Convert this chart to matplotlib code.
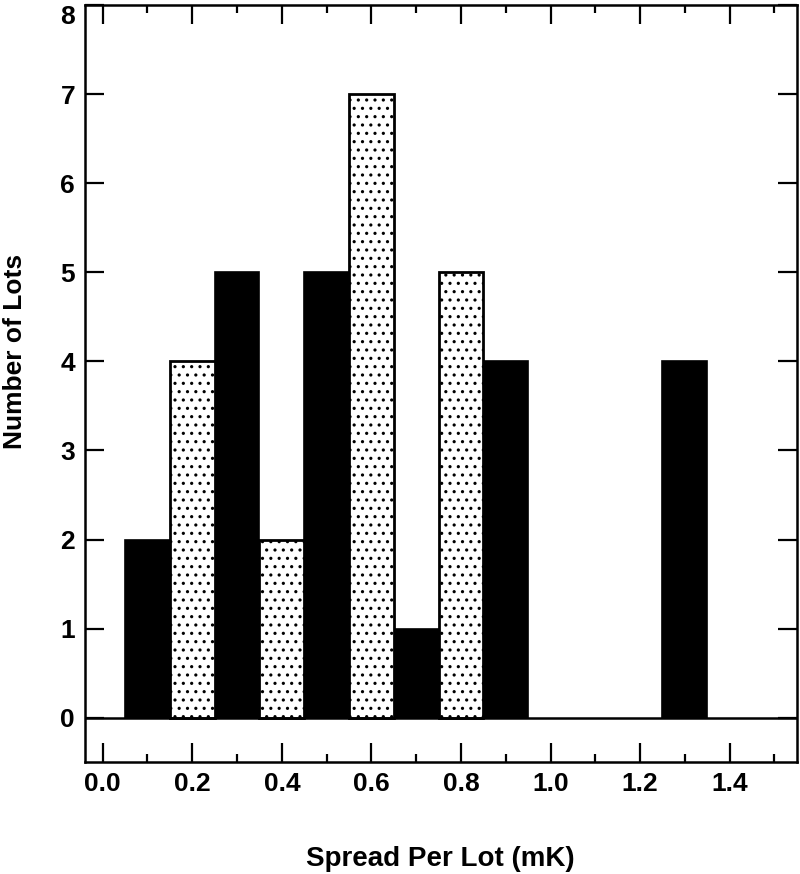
import matplotlib
matplotlib.use("Agg")
import matplotlib.pyplot as plt
from matplotlib.ticker import MultipleLocator

plt.rcParams['font.family'] = ['Liberation Sans', 'DejaVu Sans']
plt.rcParams['hatch.linewidth'] = 1.1

black_x = [0.1, 0.3, 0.5, 0.7, 0.9, 1.3]
black_counts = [2, 5, 5, 1, 4, 4]
dotted_x = [0.2, 0.4, 0.6, 0.8]
dotted_counts = [4, 2, 7, 5]
bar_width = 0.1
y_ticks = [0, 1, 2, 3, 4, 5, 6, 7, 8]
x_ticks = [0.0, 0.2, 0.4, 0.6, 0.8, 1.0, 1.2, 1.4]
x_ticklabels = ['0.0', '0.2', '0.4', '0.6', '0.8', '1.0', '1.2', '1.4']

fig = plt.figure(figsize=(8, 8.74), dpi=100)
ax = fig.add_axes([0.106, 0.128, 0.89, 0.866])

ax.bar(black_x, black_counts, width=bar_width, color='black', edgecolor='black', linewidth=1.2, zorder=2)
ax.bar(dotted_x, dotted_counts, width=bar_width, color='white', edgecolor='black', linewidth=2.0,
       hatch='..', zorder=2)
ax.axhline(0, color='black', lw=1.8, zorder=3)

ax.set_xlim(-0.04, 1.55)
ax.set_ylim(-0.5, 8)
ax.xaxis.set_minor_locator(MultipleLocator(0.1))
ax.set_yticks(y_ticks)
ax.set_xticks(x_ticks)
ax.set_xticklabels(x_ticklabels)

ax.tick_params(axis='both', which='major', direction='in', length=14, width=1.6,
               top=True, right=True, labelsize=19, pad=7)
ax.tick_params(axis='x', which='minor', direction='in', length=6, width=1.6, top=True)
for lab in ax.get_xticklabels() + ax.get_yticklabels():
    lab.set_fontweight('bold')
ax.get_yticklabels()[-1].set_verticalalignment('top')

for s in ax.spines.values():
    s.set_linewidth(1.8)

ax.set_xlabel('Spread Per Lot (mK)', fontsize=20, fontweight='bold', labelpad=36)
ax.set_ylabel('Number of Lots', fontsize=19, fontweight='bold')
ax.yaxis.set_label_coords(-0.0815, 0.542)

fig.savefig('out.png', dpi=100)
